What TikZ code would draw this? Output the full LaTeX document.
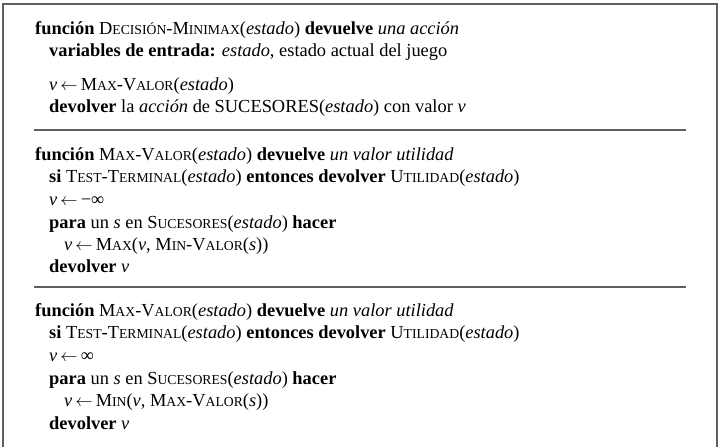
\documentclass[tikz,border=0pt]{standalone}
\usepackage{fontspec}
\setmainfont{Liberation Serif}
\definecolor{framegray}{RGB}{95,95,95}
\newcommand{\smc}[1]{{\fontsize{13.7pt}{13.7pt}\selectfont #1}}
\newcommand{\assignto}{\,$\leftarrow$\,}

\begin{document}
\begin{tikzpicture}[x=1pt,y=-1pt]
    \tikzstyle{codeline} = [anchor=base west, inner sep=0pt, font=\fontsize{18.4pt}{22pt}\selectfont]
    \tikzstyle{frame} = [draw=framegray, line width=1.5pt]
    \useasboundingbox (0,0) rectangle (720,447);

    % box and separators
    \draw[frame] (3,447) -- (3,4) -- (717,4) -- (717,447);
    \draw[frame] (34,130) -- (686,130);
    \draw[frame] (34,287) -- (686,287);

    % decision-minimax
    \node[codeline] (decA) at (35,34) {\textbf{función} D\smc{ECISIÓN}-M\smc{INIMAX}(\textit{estado}) \textbf{devuelve} \textit{una acción}};
    \node[codeline] (decB) at (49,56) {\textbf{variables de entrada:} \textit{estado}, estado actual del juego};
    \node[codeline] (decC) at (49,90) {\textit{v}\assignto M\smc{AX}-V\smc{ALOR}(\textit{estado})};
    \node[codeline] (decD) at (49,112) {\textbf{devolver} la \textit{acción} de SUCESORES(\textit{estado}) con valor \textit{v}};

    % max-valor
    \node[codeline] (maxA) at (35,160) {\textbf{función} M\smc{AX}-V\smc{ALOR}(\textit{estado}) \textbf{devuelve} \textit{un valor utilidad}};
    \node[codeline] (maxB) at (49,182) {\textbf{si} T\smc{EST}-T\smc{ERMINAL}(\textit{estado}) \textbf{entonces devolver} U\smc{TILIDAD}(\textit{estado})};
    \node[codeline] (maxC) at (49,205) {\textit{v}\assignto −∞};
    \node[codeline] (maxD) at (49,228) {\textbf{para} un \textit{s} en S\smc{UCESORES}(\textit{estado}) \textbf{hacer}};
    \node[codeline] (maxE) at (64,250) {\textit{v}\assignto M\smc{AX}(\textit{v}, M\smc{IN}-V\smc{ALOR}(\textit{s}))};
    \node[codeline] (maxF) at (49,272) {\textbf{devolver} \textit{v}};

    % min-valor
    \node[codeline] (minA) at (35,316) {\textbf{función} M\smc{AX}-V\smc{ALOR}(\textit{estado}) \textbf{devuelve} \textit{un valor utilidad}};
    \node[codeline] (minB) at (49,338) {\textbf{si} T\smc{EST}-T\smc{ERMINAL}(\textit{estado}) \textbf{entonces devolver} U\smc{TILIDAD}(\textit{estado})};
    \node[codeline] (minC) at (49,361) {\textit{v}\assignto ∞};
    \node[codeline] (minD) at (49,384) {\textbf{para} un \textit{s} en S\smc{UCESORES}(\textit{estado}) \textbf{hacer}};
    \node[codeline] (minE) at (64,406) {\textit{v}\assignto M\smc{IN}(\textit{v}, M\smc{AX}-V\smc{ALOR}(\textit{s}))};
    \node[codeline] (minF) at (49,429) {\textbf{devolver} \textit{v}};
\end{tikzpicture}
\end{document}
